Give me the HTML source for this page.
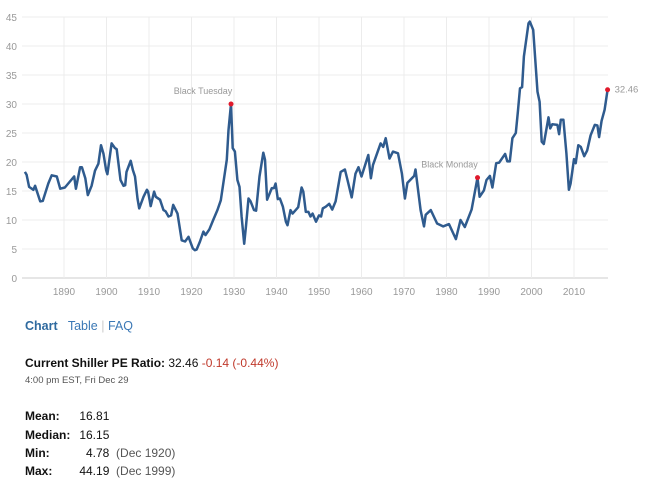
<!DOCTYPE html>
<html><head><meta charset="utf-8"><style>
body{margin:0;background:#fff;font-family:"Liberation Sans",Arial,sans-serif;width:664px;height:481px;overflow:hidden;position:relative}
.abs{position:absolute;white-space:nowrap}
.nav{top:319px;left:25px;font-size:12.5px;color:#3b78b5}
.nav b{color:#2f6a9f}
.cur{top:356px;left:25px;font-size:12px;color:#111}
.ts{top:375px;left:25px;font-size:9.5px;color:#555}
.st{left:25px;font-size:12px;color:#111}
.st b{display:inline-block;width:51px}
.g{color:#555}
</style></head><body>
<svg id="chart" width="664" height="300" style="position:absolute;left:0;top:0"></svg>
<div class="abs nav"><b>Chart</b>&nbsp;&nbsp; <span>Table</span> <span style="color:#ccc">|</span> <span>FAQ</span></div>
<div class="abs cur"><b>Current Shiller PE Ratio:</b> 32.46 <span style="color:#c0392b">-0.14 (-0.44%)</span></div>
<div class="abs ts">4:00 pm EST, Fri Dec 29</div>
<div class="abs st" style="top:409px"><b>Mean:</b> 16.81</div>
<div class="abs st" style="top:428px"><b>Median:</b> 16.15</div>
<div class="abs st" style="top:446px"><b>Min:</b> &nbsp; 4.78 &nbsp;<span class="g">(Dec 1920)</span></div>
<div class="abs st" style="top:464px"><b>Max:</b> 44.19 &nbsp;<span class="g">(Dec 1999)</span></div>
<script>
const years=[1880.8,1881.2,1881.8,1882.8,1883.2,1884.4,1885,1886.3,1887.1,1888.3,1889.1,1890.2,1891.7,1892.4,1892.8,1893.8,1894.2,1895,1895.6,1896.5,1897.3,1898.1,1898.7,1899.3,1899.9,1900.2,1901.2,1902,1902.4,1903.3,1904,1904.4,1904.7,1905.7,1906.2,1906.7,1907.3,1907.7,1908.7,1909.5,1909.8,1910.4,1911.2,1911.6,1912.6,1913.4,1913.9,1914.6,1915.2,1915.7,1916.7,1917.7,1918.5,1919.3,1920.3,1920.8,1921.2,1922,1922.8,1923.3,1924.2,1925.1,1926.1,1926.9,1927.6,1928.3,1928.7,1929.3,1929.7,1930.2,1930.8,1931.3,1931.8,1932.4,1932.8,1933.4,1933.9,1934.7,1935.2,1936,1936.9,1937.3,1937.8,1938.9,1939.4,1939.8,1940.3,1940.8,1941.5,1942.2,1942.6,1943.3,1943.8,1945.1,1945.9,1946.3,1946.9,1947.5,1948,1948.5,1949.3,1950,1950.5,1950.9,1951.6,1952.4,1953.1,1953.9,1955.1,1956.1,1956.7,1957.7,1958.6,1959.3,1960,1961.6,1962.2,1962.7,1964.5,1965.1,1965.7,1966.6,1967.4,1968.6,1969.5,1970.2,1970.8,1972.4,1972.7,1973.9,1974.7,1975.1,1976.3,1977.8,1979.2,1980.6,1982.2,1983.3,1984.3,1985.9,1987.3,1987.8,1988.8,1989.4,1990.2,1990.8,1991.7,1992.4,1993.8,1994.3,1994.9,1995.5,1996.3,1996.8,1997.3,1997.8,1998.2,1999.3,1999.6,2000.4,2001.4,2001.9,2002.4,2002.9,2004,2004.4,2004.9,2006.1,2006.5,2006.9,2007.5,2008.2,2008.8,2009.2,2010,2010.4,2011,2011.6,2012.4,2013.1,2013.9,2014.9,2015.5,2015.9,2016.5,2017.2,2017.9];
const peValues=[18.3,17.8,15.7,15.2,15.9,13.2,13.3,16.3,17.7,17.5,15.4,15.6,16.9,17.5,15.4,19.1,19.1,17.2,14.3,15.9,18.5,19.7,22.9,21.4,18.6,17.9,23.2,22.4,22.2,16.9,15.9,16,18.3,20.2,18.6,17.5,13.7,12,14,15.2,14.9,12.4,14.9,14,13.5,11.7,11.5,10.6,10.8,12.6,11.1,6.5,6.3,7.1,5.1,4.8,4.9,6.3,8,7.4,8.4,10,11.7,13.4,16.9,20.4,25.5,30,22.4,21.8,16.9,15.7,10.6,5.9,8.8,13.7,13.2,11.7,11.6,17.5,21.6,20.4,13.5,15.5,15.5,16.3,13.6,13.7,12.3,9.7,9.1,11.7,11.1,12.2,15.6,14.9,11.4,11.4,10.6,11.1,9.7,10.8,10.6,12,12.3,12.8,11.8,13.2,18.3,18.7,16.9,13.9,18,19.1,17.5,21.2,17.2,19.5,23.2,22.6,24.1,20.6,21.8,21.5,18,13.7,16.4,17.6,18.7,11.7,8.9,10.9,11.7,9.4,8.9,9.3,6.7,10,8.8,11.8,17.3,14,15.1,16.9,17.6,15.6,19.8,19.9,21.4,20.1,20.1,24.1,25,28.7,32.7,32.9,38.2,43.9,44.2,42.8,32.1,30.4,23.5,23.1,27.7,25.8,26.5,26.4,24.8,27.3,27.3,21.5,15.2,16.3,20.5,19.8,22.9,22.6,21,22,24.6,26.4,26.3,24.3,27.1,29,32.46];
const yTicks=[0,5,10,15,20,25,30,35,40,45];
const xTicks=[1890,1900,1910,1920,1930,1940,1950,1960,1970,1980,1990,2000,2010];
const markers=[{label:"Black Tuesday",year:1929.3,value:30},{label:"Black Monday",year:1987.3,value:17.3}];
const NS="http://www.w3.org/2000/svg";
const svg=document.getElementById('chart');
const X0=22,X1=608;
const xs=y=>64+(y-1890)*4.25;
const ys=v=>278-v*5.8;
function mk(t,a,txt){const e=document.createElementNS(NS,t);for(const k in a)e.setAttribute(k,a[k]);if(txt!=null)e.textContent=txt;svg.appendChild(e);return e;}
yTicks.forEach(v=>{
 const l=mk('line',{x1:X0,x2:X1,y1:ys(v),y2:ys(v),stroke:v===0?'#ccc':'#ececec','stroke-width':1});
 
 
 const t=mk('text',{x:17,y:ys(v)+4,'text-anchor':'end','font-size':10,fill:'#999','font-family':'Liberation Sans, sans-serif'},v);
 
 
});
xTicks.forEach(y=>{
 const l=mk('line',{x1:xs(y),x2:xs(y),y1:ys(45),y2:ys(0),stroke:'#ececec','stroke-width':1});
 
 
 const t=mk('text',{x:xs(y),y:295,'text-anchor':'middle','font-size':10,fill:'#999','font-family':'Liberation Sans, sans-serif'},y);
 
 
});
const d=years.map((y,i)=>(i?'L':'M')+xs(y).toFixed(1)+','+ys(peValues[i]).toFixed(1)).join('');
const p=mk('path',{d:d,fill:'none',stroke:'#2f5b8e','stroke-width':2.5,'stroke-linejoin':'round'});


markers.forEach(m=>{
 const c=mk('circle',{cx:xs(m.year),cy:ys(m.value),r:2.5,fill:'#e0192b'});
 
 
 const t=mk('text',{x:xs(m.year)-28,y:ys(m.value)-10,'text-anchor':'middle','font-size':9,fill:'#999','font-family':'Liberation Sans, sans-serif'},m.label);
 
 
});
const ly=years[years.length-1],lv=peValues[peValues.length-1];
const lc=mk('circle',{cx:xs(ly),cy:ys(lv),r:2.5,fill:'#e0192b'});


const lt=mk('text',{x:xs(ly)+7,y:ys(lv)+3,'font-size':9.5,fill:'#999','font-family':'Liberation Sans, sans-serif'},lv.toFixed(2));


</script>
</body></html>
